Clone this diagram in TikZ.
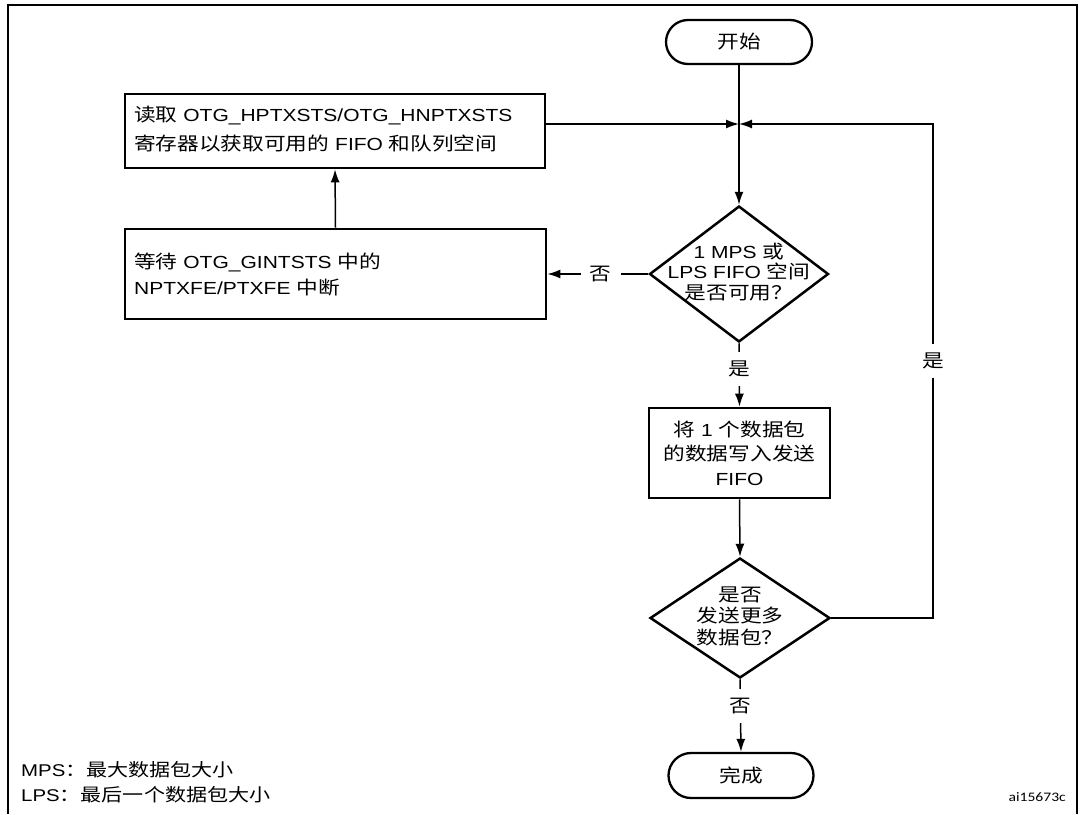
\documentclass[tikz,border=0pt]{standalone}
\usepackage{fontspec}
\setmainfont{Liberation Sans}[FakeStretch=1.2]
\newfontfamily\cjk{Noto Sans CJK SC}[FakeStretch=1.18,Scale=1.05]
\newfontfamily\idfont{Carlito}[FakeStretch=1.2]
\newcommand\zhtext[1]{{\cjk #1}}
\usetikzlibrary{shapes.geometric,shapes.misc,arrows.meta}
\tikzset{
  conn/.style={line width=1.5pt},
  arr/.style={conn,-{Latex[length=13pt,width=9pt]}},
  procbox/.style={draw,line width=2.7pt,rectangle,inner sep=0pt},
  decis/.style={draw,line width=2.5pt,diamond,inner sep=0pt},
  term/.style={draw,line width=2.3pt,rounded rectangle,inner sep=0pt,font=\fontsize{17.5}{20}\selectfont},
  lab/.style={fill=white,inner sep=9pt,font=\fontsize{17.5}{20}\selectfont},
  txt/.style={inner sep=0pt,align=center},
}
\begin{document}
\begin{tikzpicture}[x=1pt,y=-1pt]
\useasboundingbox (0,0) rectangle (1084,814);
\draw[line width=2.2pt] (8,814) -- (8,5) -- (1077,5) -- (1077,814);

% terminals
\node[term,minimum width=146pt,minimum height=44pt] (start) at (739,42) {\zhtext{开始}};
\node[term,minimum width=145pt,minimum height=45pt] (end) at (741,775.5) {\zhtext{完成}};

% process boxes
\node[procbox,minimum width=420pt,minimum height=74pt] (box1) at (335,131) {};
\node[txt,anchor=west,align=left,font=\fontsize{17.5}{29}\selectfont] (box1t) at (134,129)
  {\zhtext{读取} OTG\_HPTXSTS/OTG\_HNPTXSTS\\\zhtext{寄存器以获取可用的} FIFO \zhtext{和队列空间}};
\node[procbox,minimum width=421pt,minimum height=90pt] (box2) at (335.5,274) {};
\node[txt,anchor=west,align=left,font=\fontsize{17.5}{26}\selectfont] (box2t) at (134,275)
  {\zhtext{等待} OTG\_GINTSTS \zhtext{中的}\\NPTXFE/PTXFE \zhtext{中断}};
\node[procbox,minimum width=181pt,minimum height=90pt] (box3) at (739.5,453) {};
\node[txt,font=\fontsize{17.5}{24.5}\selectfont] (box3t) at (box3.center)
  {\zhtext{将} 1 \zhtext{个数据包}\\\zhtext{的数据写入发送}\\FIFO};

% decisions
\node[decis,minimum width=179pt,minimum height=136pt] (d1) at (739,274) {};
\node[txt,font=\fontsize{17.5}{20.5}\selectfont] (d1t) at (739,272)
  {1 MPS \zhtext{或}\\LPS FIFO \zhtext{空间}\\\zhtext{是否可用？}};
\node[decis,minimum width=180pt,minimum height=120pt] (d2) at (740,618) {};
\node[txt,font=\fontsize{17.5}{21.5}\selectfont] (d2t) at (740,616)
  {\zhtext{是否}\\\zhtext{发送更多}\\\zhtext{数据包？}};

% connectors
\coordinate (junc) at (739,124);
\coordinate (rc) at (933,124);
\draw[arr] (start.south) -- (d1.north);
\draw[arr] (box1.east |- junc) -- (junc);
\draw[arr] (d2.east) -| node[pos=0.76,lab] {\zhtext{是}} (rc) -- (junc);
\draw[arr] (box2.north) -- (box1.south);
\draw[arr] (d1.west) -- node[pos=0.47,lab] {\zhtext{否}} (box2.east);
\draw[arr] (d1.south) -- node[pos=0.4,lab] {\zhtext{是}} (box3.north);
\draw[arr] (box3.south) -- (d2.north);
\draw[arr] (d2.south) -- node[pos=0.37,lab] {\zhtext{否}} (end.north);

% legend
\node[txt,anchor=west,font=\fontsize{17}{20}\selectfont] (leg1) at (21,770) {MPS\zhtext{：最大数据包大小}};
\node[txt,anchor=west,font=\fontsize{17}{20}\selectfont] (leg2) at (21,795) {LPS\zhtext{：最后一个数据包大小}};
\node[txt,anchor=east,font=\idfont\fontsize{13}{16}\selectfont] (fid) at (1066,797) {ai15673c};
\end{tikzpicture}
\end{document}
